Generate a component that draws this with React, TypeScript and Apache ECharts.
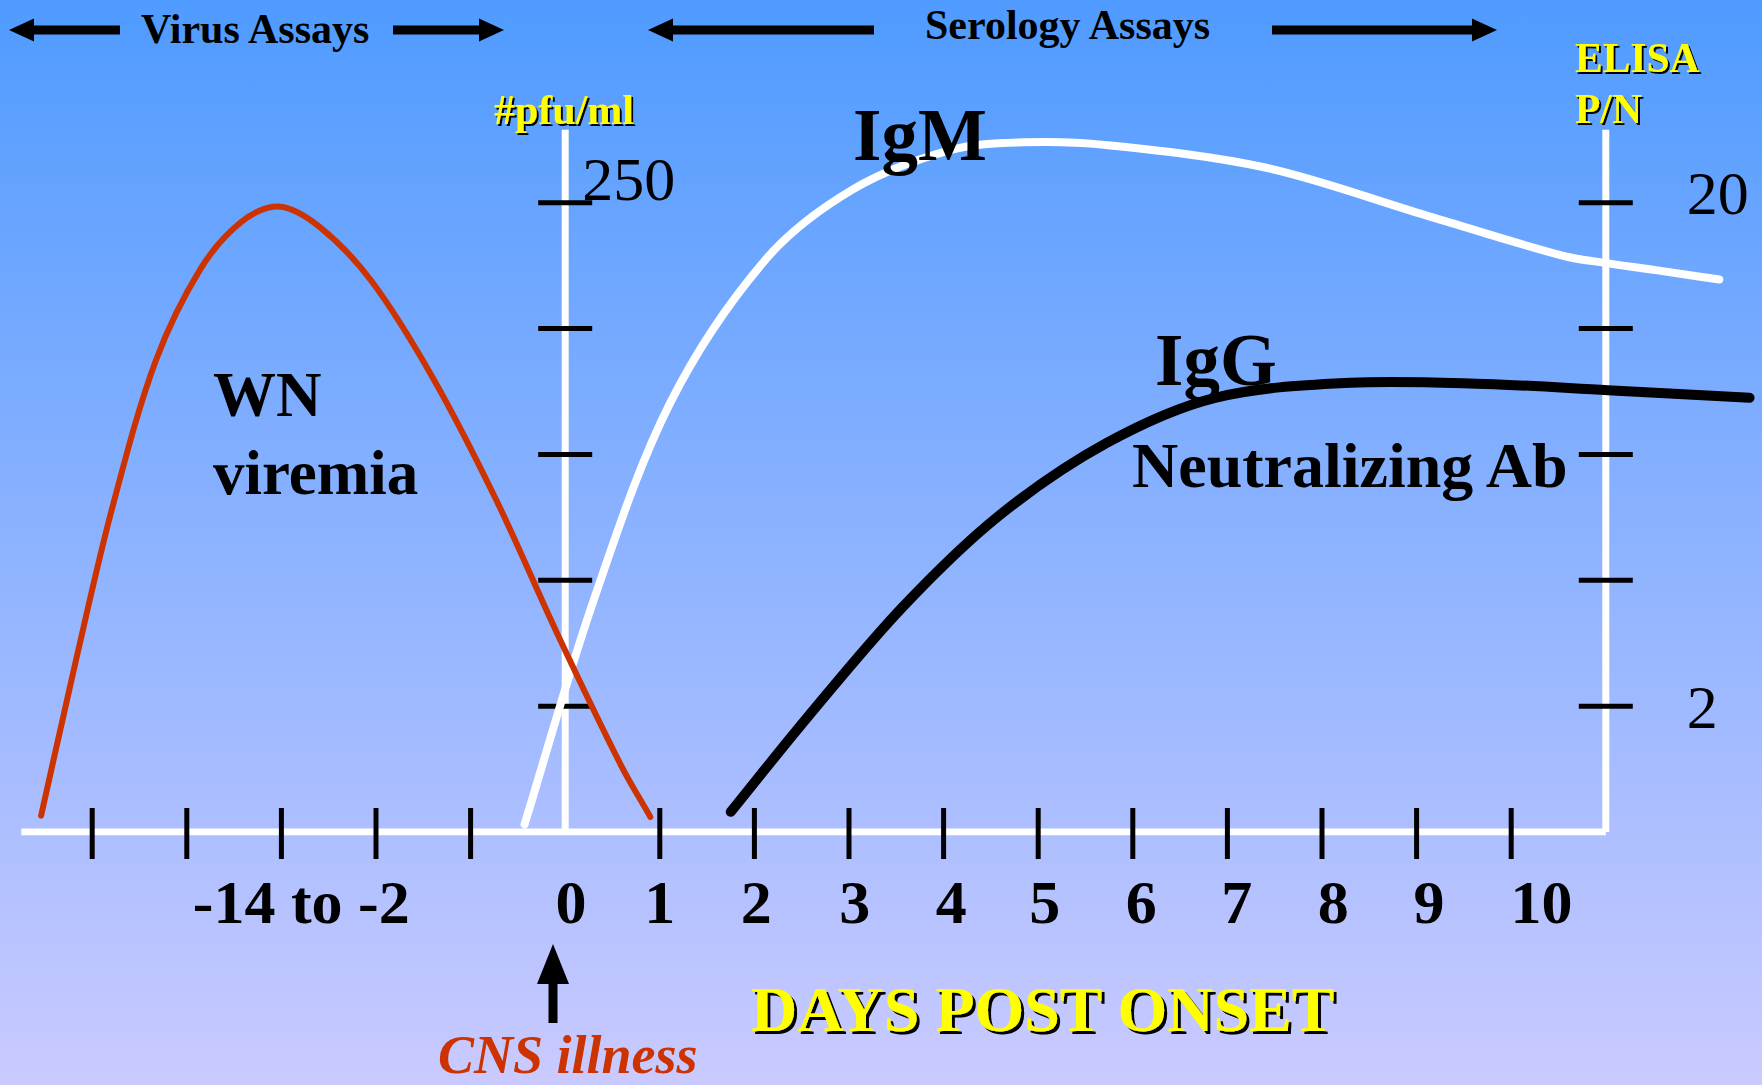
import React, { useEffect, useRef } from "react";
import * as echarts from "echarts";

// ---- data (days post onset, relative level in tick units) ----
const viremia: [number, number][] = [
  [-5.54, 0.13], [-5.17, 1.37], [-4.79, 2.57], [-4.33, 3.74], [-3.85, 4.48],
  [-3.42, 4.85], [-3.03, 4.97], [-2.6, 4.81], [-2.05, 4.38], [-1.4, 3.61],
  [-0.73, 2.64], [-0.08, 1.57], [0.59, 0.53], [0.9, 0.12],
];
const igm: [number, number][] = [
  [-0.43, 0.06], [0.3, 1.84], [1.11, 3.41], [2.12, 4.55], [3.05, 5.11],
  [4.08, 5.42], [4.84, 5.48], [5.7, 5.46], [7.4, 5.28], [9.1, 4.9],
  [10.54, 4.58], [11.01, 4.52], [11.48, 4.47], [12.2, 4.39],
];
const igg: [number, number][] = [
  [1.75, 0.16], [2.57, 0.92], [3.57, 1.79], [4.58, 2.51], [5.72, 3.09],
  [6.87, 3.45], [8.3, 3.57], [9.73, 3.56], [11.02, 3.51], [12.52, 3.45],
];

const xTickDays = [-5, -4, -3, -2, -1, 1, 2, 3, 4, 5, 6, 7, 8, 9, 10];
const yTickLevels = [1, 2, 3, 4, 5];
const dayLabels = ["-14 to -2", "0", "1", "2", "3", "4", "5", "6", "7", "8", "9", "10"];
const dayLabelPos = [-2.79, 0.06, 1.0, 2.02, 3.06, 4.08, 5.07, 6.09, 7.1, 8.12, 9.13, 10.32];

const pfuAxisX = 0;
const elisaAxisX = 11;
const baselineStart = -5.75;
const axisTop = 5.58;
const pfuTopLabel = { level: 5, text: "250" };
const elisaTopLabel = { level: 5, text: "20" };
const elisaBottomLabel = { level: 1, text: "2" };

const SERIF = '"Liberation Serif", "Times New Roman", Times, serif';

function txt(text: string, x: number, y: number, size: number, o: any = {}) {
  const style: any = {
    text,
    x: 0,
    y: 0,
    fill: o.fill ?? "#000",
    font: `${o.italic ? "italic " : ""}${o.bold === false ? "" : "bold "}${size}px ${SERIF}`,
    align: o.align ?? "left",
    verticalAlign: "middle",
  };
  if (o.shadow) {
    style.textShadowColor = "#000000";
    style.textShadowOffsetX = o.shadow;
    style.textShadowOffsetY = o.shadow;
    style.textShadowBlur = 0.6;
  }
  return { type: "text", x, y, z: 20, silent: true, style };
}

function hArrow(tipX: number, tailX: number, y: number) {
  const dir = tailX > tipX ? 1 : -1;
  const hl = 25 * dir, hh = 11.5, st = 4.5;
  return {
    type: "polygon",
    z: 20,
    silent: true,
    shape: {
      points: [
        [tipX, y], [tipX + hl, y - hh], [tipX + hl, y - st], [tailX, y - st],
        [tailX, y + st], [tipX + hl, y + st], [tipX + hl, y + hh],
      ],
    },
    style: { fill: "#000" },
  };
}

export default function App() {
  const ref = useRef<HTMLDivElement>(null);
  useEffect(() => {
    if (!ref.current) return;
    const chart = echarts.init(ref.current, undefined, { renderer: "svg" });

    const tickSeries = (data: number[][], vertical: boolean) => ({
      type: "custom",
      coordinateSystem: "cartesian2d",
      z: 3,
      silent: true,
      data,
      renderItem: (_p: any, api: any) => {
        const c = api.coord([api.value(0), api.value(1)]);
        return {
          type: "line",
          shape: vertical
            ? { x1: c[0], y1: c[1] - 24, x2: c[0], y2: c[1] + 27 }
            : { x1: c[0] - 27, y1: c[1], x2: c[0] + 27, y2: c[1] },
          style: { stroke: "#000", lineWidth: 5 },
        };
      },
    });

    const labelSeries = (
      items: { pos: number; level: number; text: string }[],
      dx: number,
      dy: number,
      font: string,
      align: string
    ) => ({
      type: "custom",
      coordinateSystem: "cartesian2d",
      z: 6,
      silent: true,
      data: items.map((it) => [it.pos, it.level]),
      renderItem: (p: any, api: any) => {
        const c = api.coord([api.value(0), api.value(1)]);
        return {
          type: "text",
          x: c[0] + dx,
          y: c[1] + dy,
          style: {
            text: items[p.dataIndex].text,
            font,
            fill: "#000",
            align,
            verticalAlign: "middle",
          },
        };
      },
    });

    const axisLine = (data: number[][]) => ({
      type: "line",
      data,
      symbol: "none",
      z: 1,
      silent: true,
      lineStyle: { color: "#ffffff", width: 7 },
    });

    // smooth curve through the data points, positioned by the grid's scales
    const curve = (name: string, pts: [number, number][], color: string, width: number, z: number) => ({
      type: "custom",
      name,
      coordinateSystem: "cartesian2d",
      z,
      silent: true,
      clip: false,
      data: pts,
      renderItem: (p: any, api: any) => {
        if (p.dataIndex !== 0) return null;
        const c = pts.map((pt) => api.coord(pt));
        const n = c.length;
        const dist = (a: number[], b: number[]) => Math.hypot(a[0] - b[0], a[1] - b[1]);
        const cpIn: number[][] = [];
        const cpOut: number[][] = [];
        for (let i = 0; i < n; i++) {
          const prev = c[Math.max(0, i - 1)];
          const cur = c[i];
          const next = c[Math.min(n - 1, i + 1)];
          const d0 = dist(prev, cur);
          const d1 = dist(cur, next);
          const s = d0 + d1 || 1;
          const vx = next[0] - prev[0];
          const vy = next[1] - prev[1];
          cpIn.push([cur[0] - (vx * d0) / s / 3, cur[1] - (vy * d0) / s / 3]);
          cpOut.push([cur[0] + (vx * d1) / s / 3, cur[1] + (vy * d1) / s / 3]);
        }
        let d = `M${c[0][0]},${c[0][1]}`;
        for (let i = 0; i < n - 1; i++) {
          d += ` C${cpOut[i][0]},${cpOut[i][1]} ${cpIn[i + 1][0]},${cpIn[i + 1][1]} ${c[i + 1][0]},${c[i + 1][1]}`;
        }
        return {
          type: "path",
          shape: { pathData: d },
          style: { fill: "none", stroke: color, lineWidth: width, lineCap: "round" },
        };
      },
    });

    const option: any = {
      animation: false,
      grid: { left: 7.06, right: 4.84, top: 13.98, bottom: 253 },
      xAxis: { type: "value", min: -5.9, max: 12.6, show: false },
      yAxis: { type: "value", min: 0, max: 6.5, show: false },
      graphic: [
        {
          type: "rect",
          z: -100,
          silent: true,
          shape: { x: 0, y: 0, width: 1762, height: 1085 },
          style: {
            fill: new echarts.graphic.LinearGradient(0, 0, 0, 1, [
              { offset: 0, color: "#4f9bff" },
              { offset: 1, color: "#cacaff" },
            ]),
          },
        },
        hArrow(9, 120, 30),
        hArrow(504, 393, 30),
        txt("Virus Assays", 141, 29, 42),
        hArrow(648, 874, 30),
        hArrow(1497, 1272, 30),
        txt("Serology Assays", 925, 25, 42),
        txt("#pfu/ml", 494, 110, 42, { fill: "#ffff00", shadow: 2 }),
        txt("ELISA", 1575, 58, 41.5, { fill: "#ffff00", shadow: 2 }),
        txt("P/N", 1575, 109, 41.5, { fill: "#ffff00", shadow: 2 }),
        txt("IgM", 853, 135, 73),
        txt("IgG", 1155, 360, 73),
        txt("Neutralizing Ab", 1132, 465, 64),
        txt("WN", 213, 395, 63),
        txt("viremia", 213, 473, 63),
        txt("DAYS POST ONSET", 751, 1009, 64, { fill: "#ffff00", shadow: 3 }),
        txt("CNS illness", 438, 1055, 54, { fill: "#cc3300", italic: true }),
        {
          type: "polygon",
          z: 20,
          silent: true,
          shape: {
            points: [
              [553, 944], [569, 984], [557.5, 984], [557.5, 1023],
              [548.5, 1023], [548.5, 984], [537, 984],
            ],
          },
          style: { fill: "#000" },
        },
      ],
      series: [
        axisLine([[baselineStart, 0], [elisaAxisX, 0]]),
        axisLine([[pfuAxisX, 0], [pfuAxisX, axisTop]]),
        axisLine([[elisaAxisX, 0], [elisaAxisX, axisTop]]),
        tickSeries(xTickDays.map((d) => [d, 0]), true),
        tickSeries(
          [
            ...yTickLevels.map((l) => [pfuAxisX, l]),
            ...yTickLevels.map((l) => [elisaAxisX, l]),
          ],
          false
        ),
        curve("IgM", igm, "#ffffff", 8, 4),
        curve("IgG", igg, "#000000", 10, 5),
        curve("WN viremia", viremia, "#cc3300", 6, 5),
        labelSeries(
          dayLabels.map((t, i) => ({ pos: dayLabelPos[i], level: 0, text: t })),
          0,
          70,
          `bold 62px ${SERIF}`,
          "center"
        ),
        labelSeries(
          [{ pos: pfuAxisX, level: pfuTopLabel.level, text: pfuTopLabel.text }],
          17,
          -24,
          `62px ${SERIF}`,
          "left"
        ),
        labelSeries(
          [{ pos: elisaAxisX, level: elisaTopLabel.level, text: elisaTopLabel.text }],
          81,
          -10,
          `62px ${SERIF}`,
          "left"
        ),
        labelSeries(
          [{ pos: elisaAxisX, level: elisaBottomLabel.level, text: elisaBottomLabel.text }],
          81,
          1,
          `62px ${SERIF}`,
          "left"
        ),
      ],
    };
    chart.setOption(option);
    return () => chart.dispose();
  }, []);

  return (
    <div
      ref={ref}
      style={{ position: "absolute", left: 0, top: 0, width: 1762, height: 1085 }}
    />
  );
}
